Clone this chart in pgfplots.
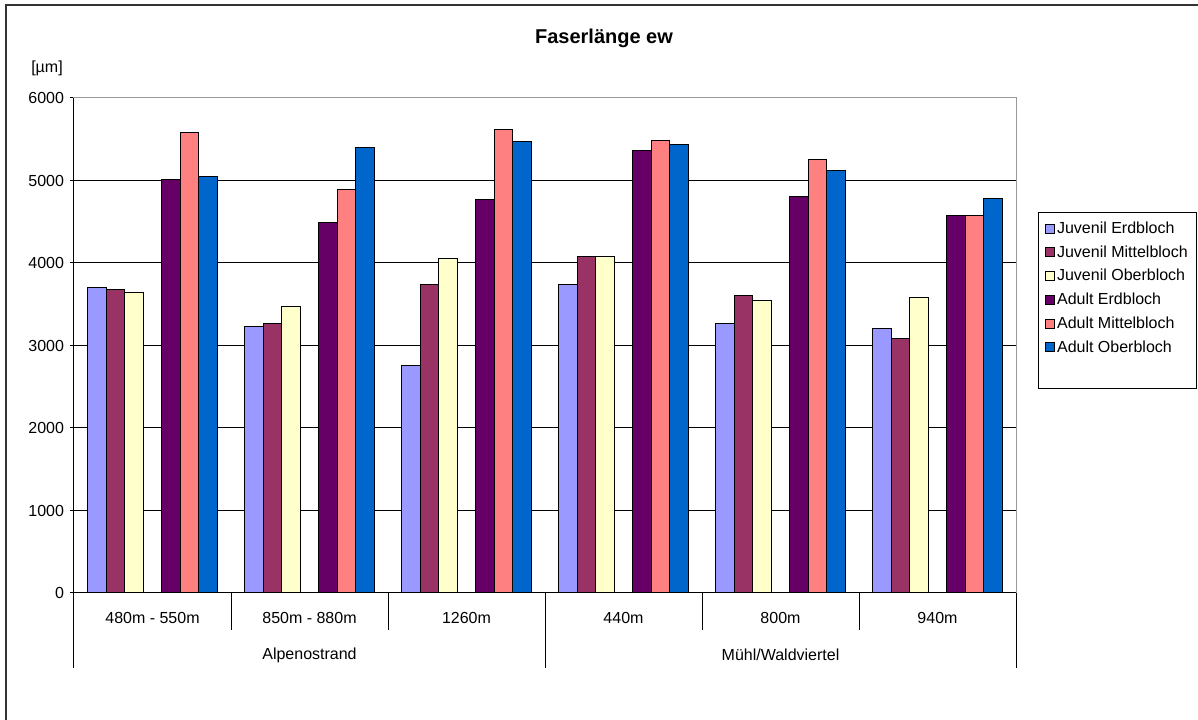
\documentclass[border=0pt]{standalone}
\usepackage{fontspec}
\setmainfont{Liberation Sans}
\usepackage{pgfplots}
\pgfplotsset{compat=1.18}

% Excel default palette
\definecolor{juverd}{HTML}{9999FF}
\definecolor{juvmit}{HTML}{993366}
\definecolor{juvob}{HTML}{FFFFCC}
\definecolor{aderd}{HTML}{660066}
\definecolor{admit}{HTML}{FF8080}
\definecolor{adob}{HTML}{0066CC}

\newcommand{\lbl}{\fontsize{12}{14}\selectfont}

\begin{document}
\begin{tikzpicture}
% 1px of the reference = 0.75pt
\useasboundingbox (0,0) rectangle (898.5pt,540pt);
\draw[line width=1pt, black!80] (4.5pt,0) -- (4.5pt,536.25pt) -- (898.5pt,536.25pt);
\node[font=\fontsize{15}{17}\selectfont\bfseries] at (453pt,511.5pt) {Faserlänge ew};
\node[font=\lbl] at (35.25pt,489pt) {[µm]};

\begin{axis}[
    at={(55.5pt,95.25pt)}, anchor=south west,
    scale only axis, clip=false,
    width=706.5pt, height=371.25pt,
    xmin=-0.5, xmax=5.5,
    ymin=0, ymax=6000,
    ytick={0,1000,...,6000},
    xtick={0,1,2,3,4,5},
    xticklabels={480m - 550m, 850m - 880m, 1260m, 440m, 800m, 940m},
    xtick style={draw=none},
    ytick pos=left,
    tick align=outside,
    major tick length=3pt,
    ytick style={black, line width=0.75pt},
    ymajorgrids,
    grid style={black, line width=0.75pt},
    axis line style={draw=black!40, line width=0.75pt},
    scaled y ticks=false,
    /pgf/number format/assume math mode=true,
    /pgf/number format/1000 sep={},
    ticklabel style={font=\lbl},
    xticklabel style={yshift=-8pt},
    yticklabel style={xshift=-1pt},
    legend style={
        at={(1.0234,0.7697)}, anchor=north west,
        font=\lbl, draw=black, line width=0.75pt,
        row sep=3.6pt, inner xsep=4.5pt, inner ysep=5pt,
        cells={anchor=west}},
    legend image code/.code={%
        \draw[#1, draw=black, line width=0.6pt] (0pt,-3.4pt) rectangle (6.8pt,3.4pt);},
]
\addplot[ybar, bar width=0.117647, bar shift=-0.352941, fill=juverd, draw=black, line width=0.75pt]
  coordinates {(0,3700) (1,3230) (2,2760) (3,3735) (4,3270) (5,3210)};
\addplot[ybar, bar width=0.117647, bar shift=-0.235294, fill=juvmit, draw=black, line width=0.75pt]
  coordinates {(0,3680) (1,3265) (2,3735) (3,4075) (4,3605) (5,3085)};
\addplot[ybar, bar width=0.117647, bar shift=-0.117647, fill=juvob, draw=black, line width=0.75pt]
  coordinates {(0,3645) (1,3470) (2,4050) (3,4075) (4,3550) (5,3585)};
\addplot[ybar, bar width=0.117647, bar shift=0.117647, fill=aderd, draw=black, line width=0.75pt]
  coordinates {(0,5010) (1,4485) (2,4765) (3,5360) (4,4800) (5,4575)};
\addplot[ybar, bar width=0.117647, bar shift=0.235294, fill=admit, draw=black, line width=0.75pt]
  coordinates {(0,5580) (1,4895) (2,5620) (3,5490) (4,5250) (5,4575)};
\addplot[ybar, bar width=0.117647, bar shift=0.352941, fill=adob, draw=black, line width=0.75pt]
  coordinates {(0,5045) (1,5400) (2,5470) (3,5440) (4,5120) (5,4785)};
\addlegendimage{empty legend}
\legend{Juvenil Erdbloch, Juvenil Mittelbloch, Juvenil Oberbloch, Adult Erdbloch, Adult Mittelbloch, Adult Oberbloch, \strut}

% axis lines (left and bottom black)
\draw[black, line width=0.75pt] (rel axis cs:0,1) -- (rel axis cs:0,0) -- (rel axis cs:1,0);
% category separators
\pgfplotsinvokeforeach{0.5,1.5,3.5,4.5}{
  \draw[black, line width=0.75pt] (axis cs:#1,0) -- ([yshift=-27.75pt]axis cs:#1,0);}
\pgfplotsinvokeforeach{-0.5,2.5,5.5}{
  \draw[black, line width=0.75pt] (axis cs:#1,0) -- ([yshift=-56.25pt]axis cs:#1,0);}
% group labels
\node[font=\lbl] at ([yshift=-46.5pt]axis cs:1,0) {Alpenostrand};
\node[font=\lbl] at ([yshift=-46.5pt]axis cs:4,0) {Mühl/Waldviertel};
\end{axis}
\end{tikzpicture}
\end{document}
